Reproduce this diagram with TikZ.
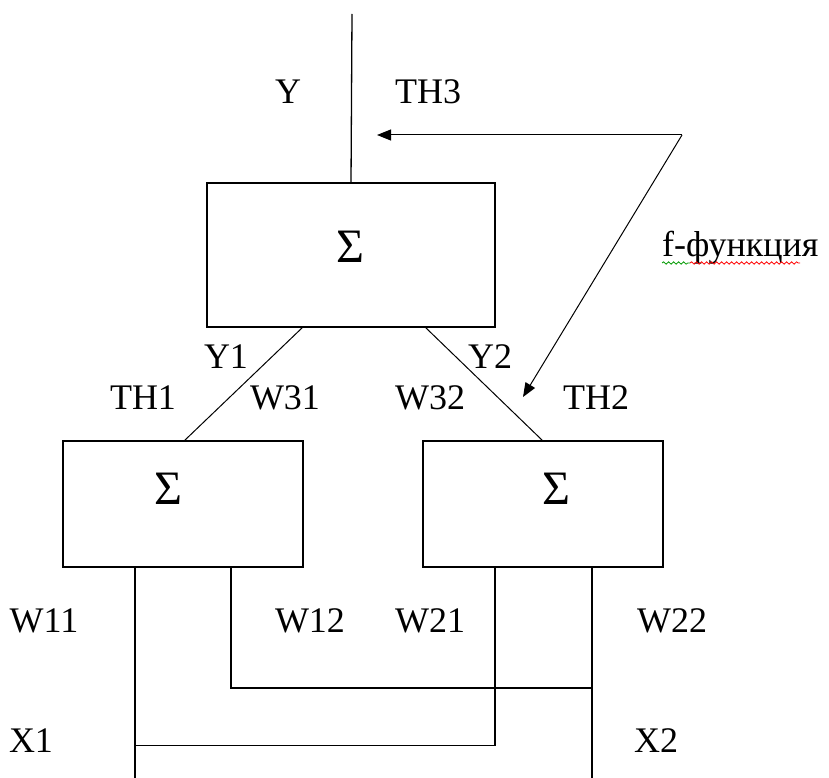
\documentclass[tikz,border=0pt]{standalone}
\usepackage{fontspec}
\setmainfont{Liberation Serif}
\newfontfamily\labelfont{Liberation Serif}
\usetikzlibrary{arrows.meta,calc,decorations.pathmorphing}
\begin{document}
\begin{tikzpicture}[x=1pt,y=-1pt,
  wire/.style={line width=1.3pt,black},
  thinwire/.style={line width=1pt,black},
  sumbox/.style={draw,line width=1.3pt,minimum width=#1,inner sep=0pt,outer sep=0pt},
  sumsign/.style={font=\labelfont\fontsize{48}{50}\selectfont,inner sep=0pt},
  lbl/.style={font=\labelfont\fontsize{36}{40}\selectfont,inner sep=0pt},
  tip/.style={-{Triangle[length=14pt,width=11pt]}},
  squiggle/.style={decorate,decoration={snake,segment length=5pt,amplitude=1.2pt},line width=0.8pt}]
\useasboundingbox (0,0) rectangle (829,778);

% summation blocks
\node[sumbox=288pt,minimum height=144pt] (top) at (351,255) {};
\node[sumbox=240pt,minimum height=126pt] (ll) at (183,504) {};
\node[sumbox=240pt,minimum height=126pt] (lr) at (543,504) {};
\node[sumsign] (s3) at (350,247) {Σ};
\node[sumsign] (s1) at (168,489) {Σ};
\node[sumsign] (s2) at (556,489) {Σ};

% output of the top block
\coordinate (yout) at (352,14);
\draw[wire] (top.north) -- (yout);

% hidden-layer links
\draw[thinwire] ([xshift=96pt]top.south west) -- ([xshift=121pt]ll.north west);
\draw[thinwire] ([xshift=218pt]top.south west) -- ([xshift=120pt]lr.north west);

% input wiring
\coordinate (x1end) at (135,778);
\coordinate (x2end) at (592,778);
\draw[wire] ([xshift=72pt]ll.south west) -- (x1end);
\draw[wire] ($([xshift=72pt]ll.south west)!0.8471!(x1end)$) -| ([xshift=72pt]lr.south west);
\draw[wire] ([xshift=168pt]ll.south west) |- (592,688);
\draw[wire] ([xshift=169pt]lr.south west) -- (x2end);

% threshold function arrows
\coordinate (f) at (682,135);
\coordinate (th3) at (377,135);
\coordinate (th2) at (523,397);
\draw[thinwire,tip] (f) -- (th3);
\draw[thinwire,tip] (f) -- (th2);

% labels
\node[lbl] (ly) at (288,92) {Y};
\node[lbl] (lth3) at (428,92) {TH3};
\node[lbl,anchor=base west] (lf) at (662,256) {f-функция};
\draw[squiggle,green!60!black] (662,263) -- (690,263);
\draw[squiggle,red] (690,263) -- (800,263);
\node[lbl] (ly1) at (226,357) {Y1};
\node[lbl] (ly2) at (490,357) {Y2};
\node[lbl] (lth1) at (143,398) {TH1};
\node[lbl] (lw31) at (285,398) {W31};
\node[lbl] (lw32) at (430,398) {W32};
\node[lbl] (lth2) at (596,398) {TH2};
\node[lbl] (lw11) at (44,621) {W11};
\node[lbl] (lw12) at (310,621) {W12};
\node[lbl] (lw21) at (430,621) {W21};
\node[lbl] (lw22) at (672,621) {W22};
\node[lbl] (lx1) at (31,741) {X1};
\node[lbl] (lx2) at (656,741) {X2};
\end{tikzpicture}
\end{document}
